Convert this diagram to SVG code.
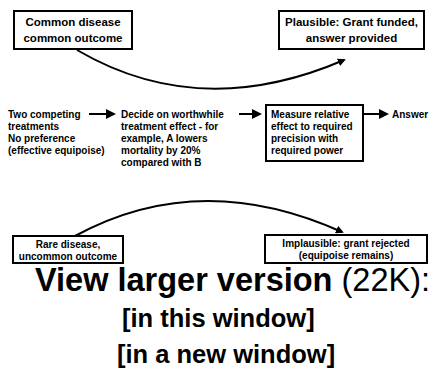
<svg xmlns="http://www.w3.org/2000/svg" width="432" height="390" viewBox="0 0 432 390">
<style>
.bg{fill:#fff}
.box{fill:#fff;stroke:#000;stroke-width:2}
.t{font-family:"Liberation Sans",Arial,sans-serif;font-weight:bold;fill:#000}
.bt{font-size:11.5px}
.rt{font-size:10px}
.st{font-size:10px}
.con{fill:none;stroke:#000;stroke-width:2}
.link{font-family:"Liberation Sans",Arial,sans-serif;fill:#000}
</style>
<defs>
<marker id="ah" markerWidth="8" markerHeight="8" refX="6" refY="4" orient="auto" markerUnits="userSpaceOnUse">
<path d="M0,0 L8,4 L0,8 Z" fill="#000"/>
</marker>
<marker id="ah2" markerWidth="10" markerHeight="10" refX="8" refY="5" orient="auto" markerUnits="userSpaceOnUse">
<path d="M0,0 L10,5 L0,10 Z" fill="#000"/>
</marker>
</defs>
<rect class="bg" x="0" y="0" width="432" height="390"/>

<g id="connectors">
<path class="con" d="M77,50 Q200,122 344,60" marker-end="url(#ah)"/>
<path class="con" d="M75,236 Q200,168 342,232" marker-end="url(#ah)"/>
<line class="con" x1="89" y1="114" x2="114" y2="114" stroke-width="2.5" marker-end="url(#ah2)"/>
<line class="con" x1="239" y1="114" x2="260" y2="114" stroke-width="2.5" marker-end="url(#ah2)"/>
<line class="con" x1="364" y1="114" x2="387" y2="114" stroke-width="2.5" marker-end="url(#ah2)"/>
</g>

<g id="common">
<rect class="box" x="14" y="11" width="118" height="38"/>
<text class="t bt" x="73" y="26" text-anchor="middle">Common disease</text>
<text class="t bt" x="73" y="42" text-anchor="middle">common outcome</text>
</g>

<g id="plausible">
<rect class="box" x="279" y="11" width="145" height="38"/>
<text class="t bt" x="351.5" y="26" text-anchor="middle">Plausible: Grant funded,</text>
<text class="t bt" x="351.5" y="42" text-anchor="middle">answer provided</text>
</g>

<g id="two">
<text class="t rt" x="8" y="118">Two competing</text>
<text class="t rt" x="8" y="130">treatments</text>
<text class="t rt" x="8" y="142">No preference</text>
<text class="t rt" x="8" y="154">(effective equipoise)</text>
</g>

<g id="decide">
<text class="t rt" x="121" y="118">Decide on worthwhile</text>
<text class="t rt" x="121" y="130">treatment effect - for</text>
<text class="t rt" x="121" y="142">example, A lowers</text>
<text class="t rt" x="121" y="154">mortality by 20%</text>
<text class="t rt" x="121" y="166">compared with B</text>
</g>

<g id="measure">
<rect class="box" x="266" y="105" width="97" height="56"/>
<text class="t rt" x="271" y="118">Measure relative</text>
<text class="t rt" x="271" y="130">effect to required</text>
<text class="t rt" x="271" y="142">precision with</text>
<text class="t rt" x="271" y="154">required power</text>
</g>

<g id="answer">
<text class="t rt" x="392" y="118">Answer</text>
</g>

<g id="rare">
<rect class="box" x="13" y="236" width="110" height="27"/>
<text class="t st" x="68" y="248" text-anchor="middle">Rare disease,</text>
<text class="t st" x="68" y="260" text-anchor="middle">uncommon outcome</text>
</g>

<g id="implausible">
<rect class="box" x="265" y="235" width="162" height="28"/>
<text class="t st" x="346" y="247" text-anchor="middle">Implausible: grant rejected</text>
<text class="t st" x="346" y="259" text-anchor="middle">(equipoise remains)</text>
</g>

<g id="links">
<text class="link" x="35" y="291" font-size="32.5"><tspan font-weight="bold">View larger version</tspan> (22K):</text>
<text class="link" x="122" y="327" font-size="25.5" font-weight="bold">[in this window]</text>
<text class="link" x="117" y="363" font-size="25.5" font-weight="bold">[in a new window]</text>
</g>
</svg>
